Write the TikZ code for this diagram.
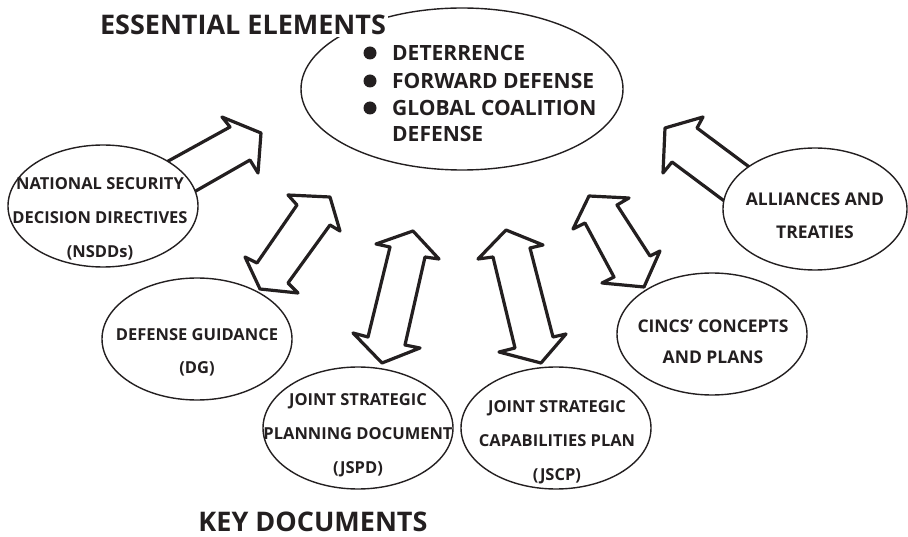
\documentclass[tikz,border=0pt]{standalone}
\usepackage{fontspec}
\setmainfont{Open Sans}
\usetikzlibrary{shapes.geometric}
\definecolor{ink}{RGB}{35,31,32}
\begin{document}
\begin{tikzpicture}[x=1pt,y=-1pt,
  blk/.style={draw=ink, line width=3.2pt, fill=white, line join=round},
  ell/.style={draw=ink, line width=1.4pt, fill=white, ellipse, inner sep=0pt},
  lbl/.style={text=ink, align=center, inner sep=0pt, font=\bfseries\fontsize{16.5}{34}\selectfont},
  lblb/.style={lbl, font=\bfseries\fontsize{17.5}{33}\selectfont},
  ttl/.style={text=ink, inner sep=2pt, font=\bfseries\fontsize{27}{30}\selectfont},
  itm/.style={text=ink, anchor=west, inner sep=0pt, font=\bfseries\fontsize{21}{27}\selectfont},
  dot/.style={circle, fill=ink, minimum size=13pt, inner sep=0pt}]
\useasboundingbox (0,0) rectangle (908,537);

% block arrows
\draw[blk] (152,170) -- (230,127) -- (222,117) -- (261,133) -- (258,173) -- (250,160) -- (180,200) -- cycle;
\draw[blk] (288,195) -- (330,197) -- (340,231) -- (330,225) -- (288,283) -- (298,293) -- (260,289) -- (245,257) -- (257,263) -- (297,205) -- cycle;
\draw[blk] (376,244) -- (413,231) -- (439,259) -- (425,257) -- (405,345) -- (420,348) -- (382,363) -- (353,333) -- (368,337) -- (390,247) -- cycle;
\draw[blk] (478,259) -- (506,230) -- (543,245) -- (530,248) -- (553,337) -- (566,334) -- (541,363) -- (499,352) -- (515,348) -- (493,257) -- cycle;
\draw[blk] (573,229) -- (589,196) -- (629,198) -- (617,205) -- (650,256) -- (660,251) -- (644,287) -- (602,283) -- (614,277) -- (585,223) -- cycle;
\draw[blk] (764,178) -- (697,128) -- (703,117) -- (665,128) -- (663,173) -- (672,162) -- (739,212) -- cycle;

% ellipses
\node[ell, minimum width=322pt, minimum height=162pt] (ee) at (462,89) {};
\node[ell, minimum width=190pt, minimum height=122pt] (nsdd) at (103,206) {};
\node[ell, minimum width=190pt, minimum height=122pt] (dg) at (197,339) {};
\node[ell, minimum width=190pt, minimum height=122pt] (jspd) at (358,428) {};
\node[ell, minimum width=190pt, minimum height=122pt] (jscp) at (556,428) {};
\node[ell, minimum width=190pt, minimum height=122pt] (cincs) at (712,334) {};
\node[ell, minimum width=184pt, minimum height=122pt] (all) at (815,209) {};

% titles
\node[ttl, fill=white] (eet) at (243,25) {ESSENTIAL ELEMENTS};
\node[ttl] (kdt) at (313,522) {KEY DOCUMENTS};

% bullet list
\node[dot] (b1) at (370,53) {};
\node[dot] (b2) at (370,81) {};
\node[dot] (b3) at (370,108) {};
\node[itm] (i1) at (392,53) {DETERRENCE};
\node[itm] (i2) at (392,81) {FORWARD DEFENSE};
\node[itm] (i3) at (392,108) {GLOBAL COALITION};
\node[itm] (i4) at (392,134) {DEFENSE};

% labels
\node[lbl] (nsddt) at (100,219) {NATIONAL SECURITY\\DECISION DIRECTIVES\\(NSDDs)};
\node[lbl, font=\bfseries\fontsize{16.5}{33}\selectfont] (dgt) at (197,352) {DEFENSE GUIDANCE\\(DG)};
\node[lbl] (jspdt) at (358,435) {JOINT STRATEGIC\\PLANNING DOCUMENT\\(JSPD)};
\node[lbl] (jscpt) at (557,442) {JOINT STRATEGIC\\CAPABILITIES PLAN\\(JSCP)};
\node[lblb, font=\bfseries\fontsize{17.5}{31}\selectfont] (cincst) at (713,342) {CINCS’ CONCEPTS\\AND PLANS};
\node[lblb] (allt) at (815,216) {ALLIANCES AND\\TREATIES};
\end{tikzpicture}
\end{document}
